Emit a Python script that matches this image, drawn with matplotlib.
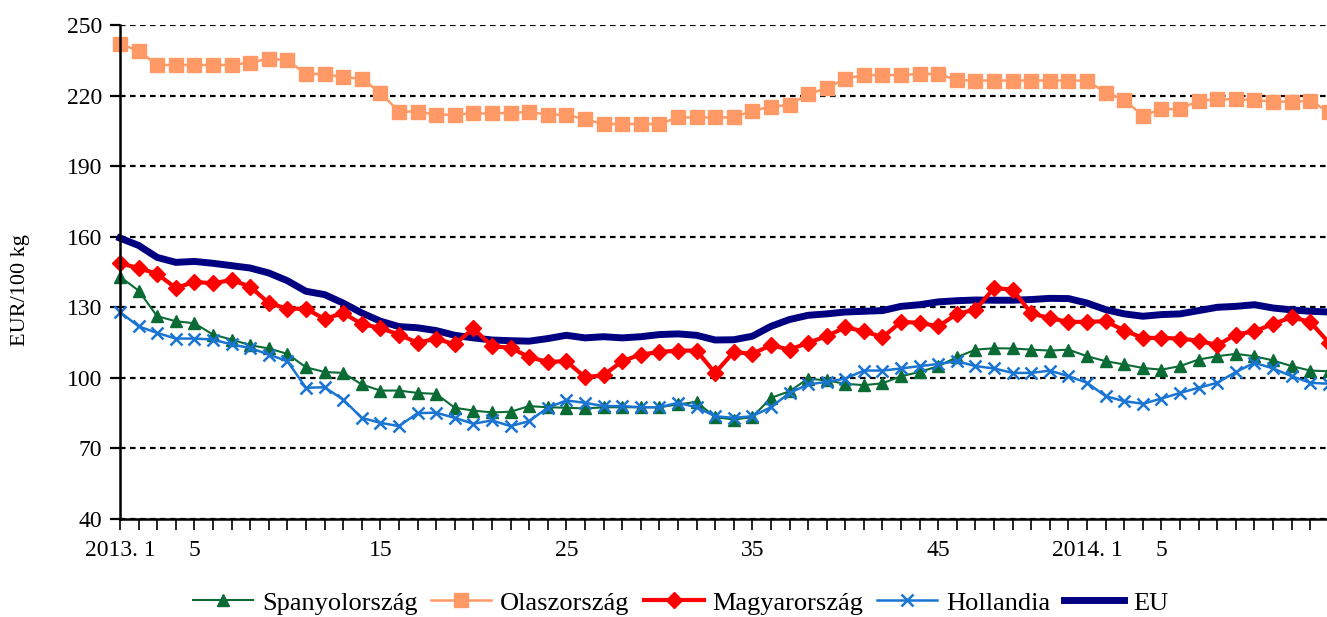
# Weekly pig prices, 2013 week 1 to 2014, EUR/100 kg
import matplotlib
matplotlib.use('Agg')
import matplotlib.pyplot as plt

# Data (one value per week)
spanyol = [143, 137.1, 126.2, 124.1, 123.2, 118.4, 116.3, 113.9, 112.5, 110.2,
           104.5, 102.5, 102.1, 97.2, 94.6, 94.6, 93.6, 93.2, 87.3, 86.1,
           85.3, 85.6, 88.0, 87.5, 87.3, 87.0, 87.5, 87.5, 87.5, 87.5,
           88.7, 89.8, 83.3, 82.3, 83.3, 91.5, 94.3, 99.7, 98.9, 97.5,
           96.9, 97.7, 100.7, 102.5, 105.0, 108.8, 112.0, 112.6, 112.5, 112.0,
           111.6, 112.0, 109.2, 107.1, 105.7, 104.2, 103.5, 105.0, 107.8, 109.2,
           110.2, 109.2, 107.4, 105.0, 103.1, 102.8]
olasz = [242, 239, 233, 233, 233, 233, 233, 234, 235.7, 235,
         229.2, 229.2, 227.8, 227.2, 221.2, 213.2, 213.2, 211.9, 211.9, 212.4,
         212.4, 212.7, 213, 211.9, 211.9, 209.9, 207.9, 207.9, 207.9, 207.9,
         210.7, 210.7, 210.7, 210.7, 213.5, 215.3, 216, 220.7, 223.1, 227.2,
         228.7, 228.7, 228.7, 229.2, 229.2, 226.6, 226.4, 226.4, 226.4, 226.4,
         226.4, 226.4, 226.4, 221.2, 218.1, 211.5, 214.2, 214.3, 217.8, 218.4,
         218.4, 218.1, 217.4, 217.4, 217.8, 213]
magyar = [148.7, 146.7, 144.2, 138.2, 140.8, 140.2, 141.6, 138.8, 131.8, 129.4,
          129.4, 125.0, 127.6, 122.9, 121.2, 118.4, 114.9, 116.7, 114.2, 121.0,
          113.5, 112.8, 108.8, 106.8, 107.1, 100.3, 101.1, 107.1, 109.9, 111.0,
          111.6, 111.6, 102.1, 111.0, 110.2, 113.9, 112.0, 114.9, 117.7, 121.5,
          119.8, 117.3, 123.8, 123.4, 121.9, 127.2, 129.0, 138.2, 137.5, 127.4,
          125.4, 123.8, 123.8, 124.1, 120.1, 117.0, 117.0, 116.7, 115.8, 113.9,
          118.4, 119.8, 122.9, 125.8, 123.8, 114.9]
hollandia = [128, 121.9, 119.1, 116.7, 116.7, 116.3, 114.2, 112.7, 109.9, 107.1,
             95.8, 96.0, 90.8, 83.0, 80.9, 79.5, 85.0, 85.2, 83.0, 80.5,
             81.9, 79.5, 81.6, 87.3, 90.4, 89.4, 88.0, 88.0, 87.5, 87.5,
             89.4, 87.5, 83.7, 83.0, 83.7, 87.5, 93.6, 97.2, 98.3, 99.7,
             103.1, 103.1, 104.0, 105.0, 105.9, 107.1, 105.0, 104.0, 102.1, 102.1,
             103.1, 100.7, 97.9, 92.2, 90.1, 89.0, 91.2, 93.6, 95.8, 97.9,
             102.5, 106.4, 104.0, 100.7, 97.9, 97.5]
eu = [159.4, 156.3, 151.2, 149.1, 149.5, 148.7, 147.7, 146.7, 144.6, 141.3,
      136.8, 135.4, 131.8, 127.6, 124.1, 121.8, 121.3, 120.1, 118.1, 117.0,
      116.1, 115.8, 115.6, 116.7, 118.1, 117.0, 117.5, 117.0, 117.5, 118.4,
      118.7, 118.1, 116.1, 116.2, 117.7, 121.9, 124.8, 126.6, 127.2, 128.0,
      128.3, 128.6, 130.4, 131.1, 132.3, 132.8, 133.1, 133.0, 133.0, 133.3,
      133.8, 133.7, 131.8, 129.0, 127.2, 126.2, 126.9, 127.2, 128.6, 130.0,
      130.4, 131.1, 129.7, 128.9, 128.3, 128.0]

weeks = list(range(len(eu)))
tick_pos = [0, 4, 14, 24, 34, 44, 52, 56]
tick_labels = ['2013. 1', '5', '15', '25', '35', '45', '2014. 1', '5']

plt.rcParams['font.family'] = ['Liberation Serif', 'DejaVu Serif']

fig = plt.figure(figsize=(13.27, 6.17), dpi=100)
ax = fig.add_axes([0.0904, 0.1588, 0.9096, 0.8007])

# Series
ax.plot(weeks, eu, color='#000080', linewidth=5, label='EU', zorder=3, clip_on=False)
ax.plot(weeks, spanyol, color='#0B6B35', linewidth=1.5, marker='^', markersize=9,
        label='Spanyolország', zorder=4, clip_on=False)
ax.plot(weeks, olasz, color='#FF9A66', linewidth=1.8, marker='s', markersize=9.5,
        label='Olaszország', zorder=4, clip_on=False)
ax.plot(weeks, magyar, color='#FF0000', linewidth=3, marker='D', markersize=8.5,
        label='Magyarország', zorder=5, clip_on=False)
ax.plot(weeks, hollandia, color='#1A75D2', linewidth=1.8, marker='x', markersize=9,
        markeredgewidth=1.8, label='Hollandia', zorder=6, clip_on=False)

# Axes limits and ticks
ax.set_xlim(0, 64.9)
ax.set_ylim(40, 250)
ax.set_yticks(range(40, 251, 30))
ax.set_xticks(tick_pos)
ax.set_xticklabels(tick_labels)
ax.set_xticks(weeks[:65], minor=True)
ax.tick_params(axis='x', which='both', direction='out', length=8, width=1.2,
               labelsize=17, pad=7)
ax.tick_params(axis='y', direction='out', length=7, width=1.6, labelsize=17, pad=6)

# Spines
for side in ['top', 'right']:
    ax.spines[side].set_visible(False)
for side in ['left', 'bottom']:
    ax.spines[side].set_linewidth(1.8)
    ax.spines[side].set_zorder(7)

# Dotted horizontal grid
ax.yaxis.grid(True, color='black', linestyle=(0, (2.5, 2)), linewidth=1.6)
ax.set_axisbelow(True)

ax.set_ylabel('EUR/100 kg', fontsize=16)
ax.yaxis.set_label_coords(-0.0746, 0.4636)

# Legend below the chart
handles, labels = ax.get_legend_handles_labels()
order = [1, 2, 3, 4, 0]
fig.legend([handles[i] for i in order], [labels[i] for i in order],
           loc='center', bbox_to_anchor=(0.513, 0.023), ncol=5, frameon=False,
           fontsize=19, handlelength=2.27, handletextpad=0.34, columnspacing=0.53)

plt.savefig('out.png', dpi=100)
